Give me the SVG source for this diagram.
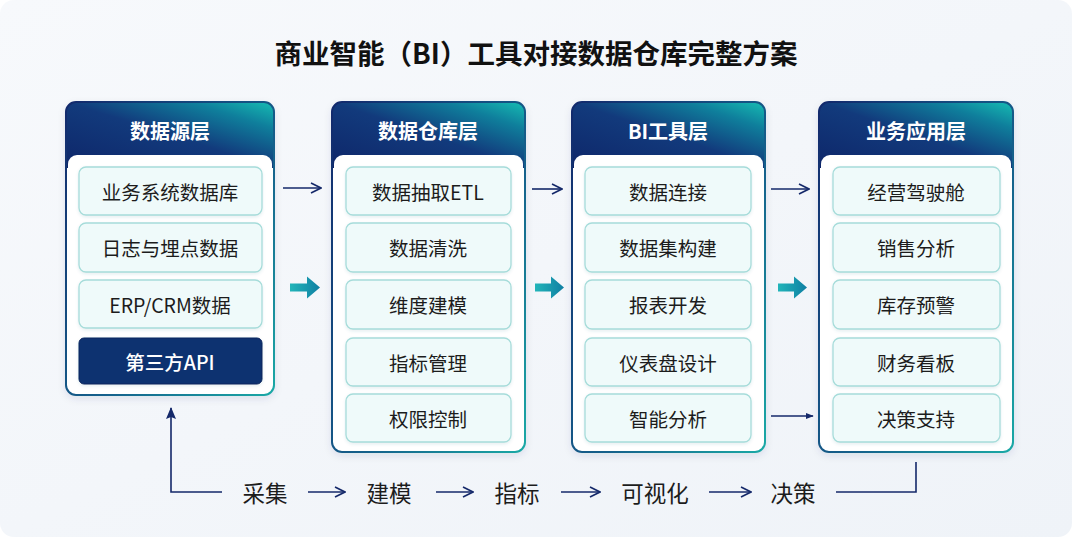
<svg xmlns="http://www.w3.org/2000/svg" width="1072" height="537" viewBox="0 0 1072 537">
<defs>
<linearGradient id="bg" x1="0" y1="0" x2="1" y2="1">
<stop offset="0" stop-color="#f7f9fc"/><stop offset="1" stop-color="#eff3f8"/>
</linearGradient>
<linearGradient id="hdr" x1="0" y1="1" x2="1" y2="0">
<stop offset="0" stop-color="#0e2669"/><stop offset="0.5" stop-color="#123a7c"/><stop offset="0.8" stop-color="#0f7f9c"/><stop offset="1" stop-color="#16bdb3"/>
</linearGradient>
<linearGradient id="brd" x1="0" y1="0" x2="1" y2="1">
<stop offset="0" stop-color="#12296c"/><stop offset="0.6" stop-color="#15618c"/><stop offset="1" stop-color="#1aa9a6"/>
</linearGradient>
<linearGradient id="fat" x1="0" y1="0" x2="1" y2="0">
<stop offset="0" stop-color="#22b5b9"/><stop offset="1" stop-color="#0f7fa3"/>
</linearGradient>
<filter id="sh" x="-10%" y="-10%" width="120%" height="130%">
<feDropShadow dx="0" dy="3" stdDeviation="4" flood-color="#1b3b6b" flood-opacity="0.12"/>
</filter>
<filter id="ish" x="-5%" y="-10%" width="110%" height="130%">
<feDropShadow dx="0" dy="1.5" stdDeviation="1.5" flood-color="#2a6f80" flood-opacity="0.12"/>
</filter>
<marker id="open" viewBox="0 0 12 12" refX="11" refY="6" markerWidth="12" markerHeight="12" markerUnits="userSpaceOnUse" orient="auto">
<path d="M1,1 L11,6 L1,11" fill="none" stroke="#15296a" stroke-width="1.6"/>
</marker>
<marker id="solid" viewBox="0 0 10 10" refX="9" refY="5" markerWidth="8" markerHeight="8" markerUnits="userSpaceOnUse" orient="auto">
<path d="M0,1 L10,5 L0,9 Z" fill="#15296a"/>
</marker>
<marker id="up" viewBox="0 0 10 12" refX="5" refY="1" markerWidth="10" markerHeight="12" markerUnits="userSpaceOnUse" orient="0">
<path d="M0,12 L5,0 L10,12 L5,10 Z" fill="#15296a"/>
</marker>
</defs>
<style>
text{font-family:"Noto Sans CJK SC","Noto Sans",sans-serif;text-anchor:middle;dominant-baseline:central}
.title{font-size:27.5px;font-weight:700;fill:#111}
.hd{font-size:20px;font-weight:700;fill:#fff}
.it{font-size:19.5px;fill:#1c1c1c}
.itd{font-size:19.5px;fill:#fff;font-weight:500}
.flow{font-size:22.5px;fill:#1c1c1c}
.item{fill:#effafa;stroke:#a6dcda;stroke-width:1.3}
.dark{fill:#10306f;stroke:#0c275f;stroke-width:1}
.ln{fill:none;stroke:#15296a;stroke-width:1.6}
</style>
<rect x="0" y="0" width="1072" height="537" rx="14" fill="url(#bg)"/>
<text class="title" x="536" y="52">商业智能（BI）工具对接数据仓库完整方案</text>

<g id="layer-source">
<rect x="66" y="102" width="208" height="293" rx="10" fill="#fff" filter="url(#sh)"/>
<path d="M76,102 H264 A10,10 0 0 1 274,112 V168 H66 V112 A10,10 0 0 1 76,102 Z" fill="url(#hdr)"/>
<rect x="68" y="155" width="204" height="238" rx="9" fill="#fff"/>
<rect x="66" y="102" width="208" height="293" rx="10" fill="none" stroke="url(#brd)" stroke-width="2"/>
<text class="hd" x="170" y="130">数据源层</text>
<g filter="url(#ish)">
<rect class="item" x="79" y="167" width="183" height="48" rx="7"/>
<rect class="item" x="79" y="223" width="183" height="49" rx="7"/>
<rect class="item" x="79" y="280" width="183" height="48" rx="7"/>
<rect class="dark" x="79" y="338" width="183" height="46" rx="5"/>
</g>
<text class="it" x="170" y="191">业务系统数据库</text>
<text class="it" x="170" y="247">日志与埋点数据</text>
<text class="it" x="170" y="304">ERP/CRM数据</text>
<text class="itd" x="170" y="361">第三方API</text>
</g>

<g id="layer-warehouse">
<rect x="332" y="102" width="193" height="350" rx="10" fill="#fff" filter="url(#sh)"/>
<path d="M342,102 H515 A10,10 0 0 1 525,112 V168 H332 V112 A10,10 0 0 1 342,102 Z" fill="url(#hdr)"/>
<rect x="334" y="155" width="189" height="295" rx="9" fill="#fff"/>
<rect x="332" y="102" width="193" height="350" rx="10" fill="none" stroke="url(#brd)" stroke-width="2"/>
<text class="hd" x="428" y="130">数据仓库层</text>
<g filter="url(#ish)">
<rect class="item" x="346" y="167" width="165" height="48" rx="7"/>
<rect class="item" x="346" y="223" width="165" height="49" rx="7"/>
<rect class="item" x="346" y="280" width="165" height="49" rx="7"/>
<rect class="item" x="346" y="338" width="165" height="48" rx="7"/>
<rect class="item" x="346" y="394" width="165" height="48" rx="7"/>
</g>
<text class="it" x="428" y="191">数据抽取ETL</text>
<text class="it" x="428" y="247">数据清洗</text>
<text class="it" x="428" y="304">维度建模</text>
<text class="it" x="428" y="362">指标管理</text>
<text class="it" x="428" y="418">权限控制</text>
</g>

<g id="layer-bi">
<rect x="572" y="102" width="193" height="350" rx="10" fill="#fff" filter="url(#sh)"/>
<path d="M582,102 H755 A10,10 0 0 1 765,112 V168 H572 V112 A10,10 0 0 1 582,102 Z" fill="url(#hdr)"/>
<rect x="574" y="155" width="189" height="295" rx="9" fill="#fff"/>
<rect x="572" y="102" width="193" height="350" rx="10" fill="none" stroke="url(#brd)" stroke-width="2"/>
<text class="hd" x="668" y="130">BI工具层</text>
<g filter="url(#ish)">
<rect class="item" x="585" y="167" width="166" height="48" rx="7"/>
<rect class="item" x="585" y="223" width="166" height="49" rx="7"/>
<rect class="item" x="585" y="280" width="166" height="49" rx="7"/>
<rect class="item" x="585" y="338" width="166" height="48" rx="7"/>
<rect class="item" x="585" y="394" width="166" height="48" rx="7"/>
</g>
<text class="it" x="668" y="191">数据连接</text>
<text class="it" x="668" y="247">数据集构建</text>
<text class="it" x="668" y="304">报表开发</text>
<text class="it" x="668" y="362">仪表盘设计</text>
<text class="it" x="668" y="418">智能分析</text>
</g>

<g id="layer-app">
<rect x="819" y="102" width="194" height="350" rx="10" fill="#fff" filter="url(#sh)"/>
<path d="M829,102 H1003 A10,10 0 0 1 1013,112 V168 H819 V112 A10,10 0 0 1 829,102 Z" fill="url(#hdr)"/>
<rect x="821" y="155" width="190" height="295" rx="9" fill="#fff"/>
<rect x="819" y="102" width="194" height="350" rx="10" fill="none" stroke="url(#brd)" stroke-width="2"/>
<text class="hd" x="916" y="130">业务应用层</text>
<g filter="url(#ish)">
<rect class="item" x="833" y="167" width="167" height="48" rx="7"/>
<rect class="item" x="833" y="223" width="167" height="49" rx="7"/>
<rect class="item" x="833" y="280" width="167" height="49" rx="7"/>
<rect class="item" x="833" y="338" width="167" height="48" rx="7"/>
<rect class="item" x="833" y="394" width="167" height="48" rx="7"/>
</g>
<text class="it" x="916" y="191">经营驾驶舱</text>
<text class="it" x="916" y="247">销售分析</text>
<text class="it" x="916" y="304">库存预警</text>
<text class="it" x="916" y="362">财务看板</text>
<text class="it" x="916" y="418">决策支持</text>
</g>

<g id="flow-labels">
<text class="flow" x="265" y="492">采集</text>
<text class="flow" x="389" y="492">建模</text>
<text class="flow" x="517" y="492">指标</text>
<text class="flow" x="655" y="492">可视化</text>
<text class="flow" x="793" y="492">决策</text>
</g>

<g id="connectors">
<line class="ln" x1="283" y1="188" x2="321" y2="188" marker-end="url(#open)"/>
<line class="ln" x1="532" y1="189" x2="562" y2="189" marker-end="url(#open)"/>
<line class="ln" x1="771" y1="189" x2="809" y2="189" marker-end="url(#open)"/>
<path d="M290,283.5 H307 V276.5 L320,287.5 L307,298.5 V291.5 H290 Z" fill="url(#fat)"/>
<path d="M535,283.5 H551 V276.5 L564,287.5 L551,298.5 V291.5 H535 Z" fill="url(#fat)"/>
<path d="M778,283.5 H794 V276.5 L807,287.5 L794,298.5 V291.5 H778 Z" fill="url(#fat)"/>
<line class="ln" x1="771" y1="416" x2="813" y2="416" stroke-width="1.4" marker-end="url(#solid)"/>
<path class="ln" d="M222,492 H171 V408" marker-end="url(#up)"/>
<line class="ln" x1="308" y1="492" x2="345" y2="492" marker-end="url(#open)"/>
<line class="ln" x1="436" y1="492" x2="473" y2="492" marker-end="url(#open)"/>
<line class="ln" x1="561" y1="492" x2="600" y2="492" marker-end="url(#open)"/>
<line class="ln" x1="709" y1="492" x2="751" y2="492" marker-end="url(#open)"/>
<path class="ln" d="M836,492 H916 V462"/>
</g>
</svg>
